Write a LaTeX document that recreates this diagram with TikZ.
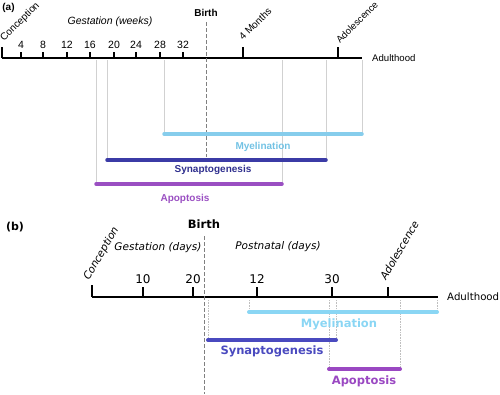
\documentclass[tikz,border=0pt]{standalone}
\usepackage{fontspec}
\setmainfont{Liberation Sans}
\newfontfamily\verdfont{DejaVu Sans}
\usetikzlibrary{positioning}
\definecolor{myelA}{HTML}{86CDEC}
\definecolor{synA}{HTML}{3B3BA6}
\definecolor{apoA}{HTML}{9A4FC2}
\definecolor{myelB}{HTML}{8AD6F4}
\definecolor{synB}{HTML}{4A4ABF}
\definecolor{apoB}{HTML}{9A48C2}
\definecolor{myelTxt}{HTML}{72C2E4}
\definecolor{synTxt}{HTML}{2F2F8E}
\tikzset{
  axisline/.style={line width=1.5pt},
  birthline/.style={gray, line width=0.8pt, dash pattern=on 4pt off 2pt},
  guideA/.style={black!18, line width=0.7pt},
  guideB/.style={black!25, line width=0.6pt, densely dotted},
  barA/.style={line width=3.5pt, line cap=round},
  barB/.style={line width=4pt, line cap=round},
  fa/.style={font=\fontsize{10}{12}\selectfont},
  fb/.style={font=\verdfont\fontsize{11}{13}\selectfont},
  fbi/.style={font=\verdfont\itshape\fontsize{10.5}{12}\selectfont},
}
\begin{document}
\begin{tikzpicture}[x=1pt, y=-1pt, >=stealth]
\useasboundingbox (0,0) rectangle (500,394);

% (a) weeks
\node[font=\bfseries\fontsize{10}{12}\selectfont] (pa) at (8.5,7.5) {(a)};
\coordinate (a0) at (2,58);
\coordinate (aE) at (362,58);
\draw[axisline] (a0) -- (aE);
\draw[axisline] (a0) -- ++(0,-11);
\node[fa, anchor=base west, rotate=45, inner sep=0pt] (concA) at (4,42) {Conception};
\node[fa, font=\itshape\fontsize{10.5}{12}\selectfont] (gestA) at (110,22) {Gestation (weeks)};
\foreach \w/\x in {4/21, 8/43, 12/67, 16/90, 20/114, 24/136, 28/160, 32/183} {
  \draw[axisline] (\x,58) -- (\x,52);
  \node[fa, font=\fontsize{10.5}{12}\selectfont, anchor=base, inner sep=0pt] (wk\w) at (\x,48) {\w};
}
\draw[axisline] (243,58) -- (243,47);
\node[fa, anchor=base west, rotate=45, inner sep=0pt] (monA) at (243,41) {4 Months};
\draw[axisline] (338,58) -- (338,47);
\node[fa, font=\fontsize{9.5}{12}\selectfont, anchor=base west, rotate=45, inner sep=0pt] (adolA) at (340,44) {Adolescence};
\node[fa, font=\fontsize{9.6}{12}\selectfont, anchor=west, inner sep=0pt] (adultA) at (372,58) {Adulthood};
\node[font=\bfseries\fontsize{10}{12}\selectfont] (birthA) at (206,13) {Birth};
\draw[birthline] (birthA.south |- 0,22) -- (206,157);

% (a) bars
\coordinate (myA1) at (164,134); \coordinate (myA2) at (362,134);
\coordinate (syA1) at (107,160); \coordinate (syA2) at (326,160);
\coordinate (apA1) at (96,184);  \coordinate (apA2) at (282,184);
\foreach \c in {myA1, myA2, syA1, syA2, apA1, apA2}
  \draw[guideA] (\c |- 0,60) -- (\c);
\draw[barA, myelA] (myA1) -- (myA2);
\draw[barA, synA] (syA1) -- (syA2);
\draw[barA, apoA] (apA1) -- (apA2);
\node[font=\bfseries\fontsize{10}{12}\selectfont, myelTxt] (myelLblA) at (263,147) {Myelination};
\node[font=\bfseries\fontsize{10}{12}\selectfont, synTxt] (synLblA) at (213,170) {Synaptogenesis};
\node[font=\bfseries\fontsize{10}{12}\selectfont, apoA] (apoLblA) at (185,199) {Apoptosis};

% (b) days
\node[font=\verdfont\bfseries\fontsize{11}{13}\selectfont] (pb) at (15,227) {(b)};
\coordinate (b0) at (92,297);
\coordinate (bE) at (438,297);
\draw[line width=2pt] (b0) -- (bE);
\draw[line width=2pt] (b0) -- ++(0,-12);
\node[fbi, anchor=base west, rotate=60, inner sep=0pt] (concB) at (89,281) {Conception};
\node[fbi] (gestB) at (158,248) {Gestation (days)};
\node[fbi] (postB) at (278,247) {Postnatal (days)};
\foreach \d/\x in {10/143, 20/193, 12/257, 30/332} {
  \draw[line width=2pt] (\x,297) -- (\x,287);
  \node[fb, font=\verdfont\fontsize{12}{14}\selectfont, anchor=base, inner sep=0pt] (dy\d\x) at (\x,283) {\d};
}
\draw[line width=2pt] (388,297) -- (388,287);
\node[fbi, anchor=base west, rotate=60, inner sep=0pt] (adolB) at (386,281) {Adolescence};
\node[fb, font=\verdfont\fontsize{10.2}{12}\selectfont, anchor=west, inner sep=0pt] (adultB) at (447,297) {Adulthood};
\node[font=\verdfont\bfseries\fontsize{11.5}{13}\selectfont] (birthB) at (204,224) {Birth};
\draw[birthline] (204,236) -- (204,394);

% (b) bars
\coordinate (myB1) at (249,312); \coordinate (myB2) at (437,312);
\coordinate (syB1) at (208,340); \coordinate (syB2) at (336,340);
\coordinate (apB1) at (329,369); \coordinate (apB2) at (400,369);
\foreach \c in {myB1, myB2, syB1, syB2, apB1, apB2}
  \draw[guideB] (\c |- 0,300) -- (\c);
\draw[barB, myelB] (myB1) -- (myB2);
\draw[barB, synB] (syB1) -- (syB2);
\draw[barB, apoB] (apB1) -- (apB2);
\node[font=\verdfont\bfseries\fontsize{11.5}{13}\selectfont, myelB] (myelLblB) at (339,324) {Myelination};
\node[font=\verdfont\bfseries\fontsize{11.5}{13}\selectfont, synB] (synLblB) at (272,351) {Synaptogenesis};
\node[font=\verdfont\bfseries\fontsize{11.5}{13}\selectfont, apoB] (apoLblB) at (364,381) {Apoptosis};
\end{tikzpicture}
\end{document}
